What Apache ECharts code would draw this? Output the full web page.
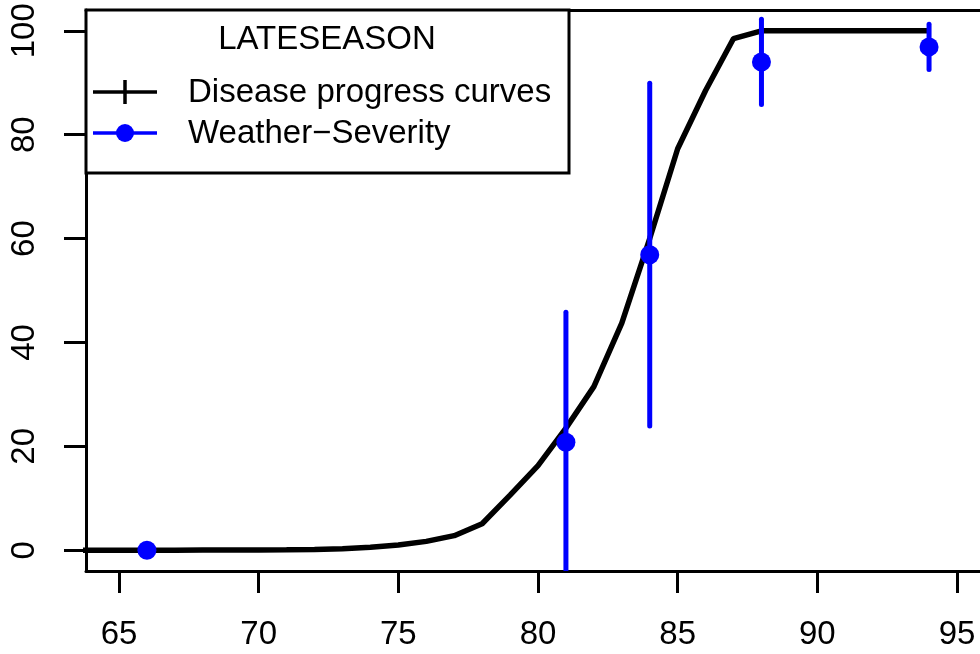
<!DOCTYPE html>
<html>
<head>
<meta charset="utf-8">
<script src="https://cdn.jsdelivr.net/npm/echarts@6/dist/echarts.min.js"></script>
<style>html,body{margin:0;padding:0;background:#fff}#c{width:980px;height:654px}</style>
</head>
<body>
<div id="c"></div>
<script>
// ---- data ----
const curveX = [60,61,62,63,64,65,66,67,68,69,70,71,72,73,74,75,76,77,78,79,80,81,82,83,84,85,86,87,88,89,90,91,92,93,94];
const curveY = [0,0,0,0,0,0,0.01,0.01,0.02,0.03,0.05,0.08,0.15,0.3,0.55,1.0,1.7,2.8,5.1,10.6,16.3,23.5,31.5,43.7,60,77.3,88.5,98.5,100,100,100,100,100,100,100];
const obsX = [66,81,84,88,94];
const obsY = [0,20.8,56.9,94.0,96.9];
const obsErr = [0,25,33,8.2,4.35];
const xTicks = [65,70,75,80,85,90,95];
const yTicks = [0,20,40,60,80,100];
const legendTitle = 'LATESEASON';
const seriesNames = ['Disease progress curves','Weather\u2212Severity'];

const FONT = '"Liberation Sans", Arial, Helvetica, sans-serif';
const FS = 33;
const BLUE = '#0000FF';

const chart = echarts.init(document.getElementById('c'), null, {renderer:'canvas'});

const curveData = curveX.map((x,i)=>[x,curveY[i]]);
const obsData = obsX.map((x,i)=>[x,obsY[i]]);
const errData = obsX.map((x,i)=>[x,obsY[i]-obsErr[i],obsY[i]+obsErr[i]]);

const XMIN = 63.8186, XMAX = 63.8186 + 894/27.933;

const option = {
  animation:false,
  backgroundColor:'#fff',
  grid:{left:86, top:10, right:0, height:561, show:false, containLabel:false},
  xAxis:[{
    type:'value', min:XMIN, max:XMAX, position:'bottom',
    axisLine:{show:true, onZero:false, lineStyle:{color:'#000', width:3}},
    splitLine:{show:false},
    axisTick:{show:true, customValues:xTicks, length:22, lineStyle:{color:'#000', width:3}},
    axisLabel:{customValues:xTicks, fontSize:FS, fontFamily:FONT, color:'#000', margin:47}
  },{
    type:'value', min:XMIN, max:XMAX, position:'top',
    axisLine:{show:true, onZero:false, lineStyle:{color:'#000', width:3}},
    splitLine:{show:false}, axisTick:{show:false}, axisLabel:{show:false}
  }],
  yAxis:{
    type:'value', min:-4, max:104,
    axisLine:{show:true, onZero:false, lineStyle:{color:'#000', width:3}},
    splitLine:{show:false},
    axisTick:{show:true, customValues:yTicks, length:22, lineStyle:{color:'#000', width:3}},
    axisLabel:{customValues:yTicks, fontSize:FS, fontFamily:FONT, color:'#000', margin:45, rotate:90}
  },
  series:[
    {
      name:seriesNames[0], type:'line', data:curveData, showSymbol:false, symbol:'none',
      lineStyle:{color:'#000', width:5.5}, clip:true, z:2
    },
    {
      name:seriesNames[1]+'_err', type:'custom', data:errData, clip:true, z:3,
      renderItem:function(params, api){
        const p1 = api.coord([api.value(0), api.value(1)]);
        const p2 = api.coord([api.value(0), api.value(2)]);
        return {type:'line', shape:{x1:p1[0],y1:p1[1],x2:p2[0],y2:p2[1]},
          style:{stroke:BLUE, lineWidth:5, lineCap:'round'}};
      }
    },
    {
      name:seriesNames[1], type:'scatter', data:obsData, symbol:'circle', symbolSize:19,
      itemStyle:{color:BLUE, opacity:1}, z:4
    }
  ],
  graphic:[
    {type:'rect', z:10, shape:{x:86,y:10,width:483,height:163}, style:{fill:'#fff', stroke:'#000', lineWidth:3}},
    {type:'text', z:11, x:327, y:40, style:{text:legendTitle, font:FS+'px '+FONT, fill:'#000', textAlign:'center', textVerticalAlign:'middle'}},
    {type:'line', z:11, shape:{x1:93,y1:92,x2:157,y2:92}, style:{stroke:'#000', lineWidth:3.5}},
    {type:'line', z:11, shape:{x1:125,y1:80,x2:125,y2:104}, style:{stroke:'#000', lineWidth:3.5}},
    {type:'text', z:11, x:188, y:93, style:{text:seriesNames[0], font:FS+'px '+FONT, fill:'#000', textAlign:'left', textVerticalAlign:'middle'}},
    {type:'line', z:11, shape:{x1:93,y1:133,x2:157,y2:133}, style:{stroke:BLUE, lineWidth:3.5}},
    {type:'circle', z:11, shape:{cx:125,cy:133,r:9}, style:{fill:BLUE}},
    {type:'text', z:11, x:188, y:134, style:{text:seriesNames[1], font:FS+'px '+FONT, fill:'#000', textAlign:'left', textVerticalAlign:'middle'}}
  ]
};
chart.setOption(option);
</script>
</body>
</html>
